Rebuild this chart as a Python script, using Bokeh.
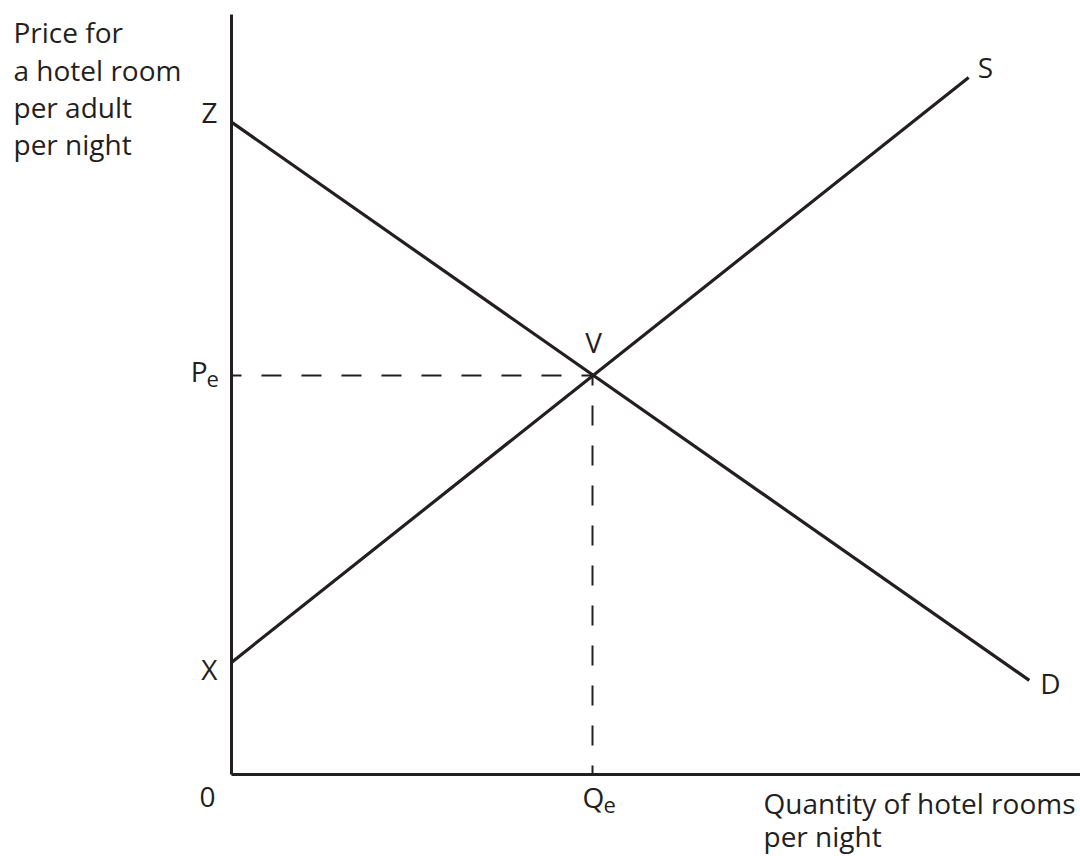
from bokeh.plotting import figure
from bokeh.models import Range1d
from bokeh.core.properties import value
from bokeh.embed import file_html
from bokeh.resources import INLINE

# ---- data (arbitrary units) ----
demand_q = [0.0, 22.1]          # Z -> D
demand_p = [16.35, 2.36]
supply_q = [0.0, 20.42]         # X -> S
supply_p = [2.81, 17.47]
eq_q = 10.0                     # Qe
eq_p = 10.0                     # Pe
axis_q_max = 23.6
axis_p_max = 19.05

y_title = ["Price for", "a hotel room", "per adult", "per night"]
x_title = ["Quantity of hotel rooms", "per night"]

# ---- layout ----
W, H = 1080, 856
ox, oy = 231, 774            # canvas pixel of the origin
sx, sy = 36.1, 39.9          # pixels per unit
INK = "#231f20"
FONT = value("Open Sans")
FS, FS_PX = "28px", 28
SUB, SUB_PX = "22px", 22

p = figure(width=W, height=H, output_backend="svg", toolbar_location=None,
           x_axis_location=None, y_axis_location=None, min_border=0,
           x_range=Range1d(-ox / sx, (W - ox) / sx),
           y_range=Range1d(-(H - oy) / sy, oy / sy))
p.grid.visible = False
p.outline_line_color = None
p.background_fill_color = "white"
p.border_fill_color = "white"

# axes
p.line([0, 0], [0, axis_p_max], line_color=INK, line_width=3)
p.line([0, axis_q_max], [0, 0], line_color=INK, line_width=3)

# dashed guides
p.line([0, eq_q], [eq_p, eq_p], line_color=INK, line_width=2,
       line_dash="20 20", line_dash_offset=10)
p.line([eq_q, eq_q], [eq_p, 0], line_color=INK, line_width=2,
       line_dash="20 20", line_dash_offset=10)

# curves
p.line(demand_q, demand_p, line_color=INK, line_width=3.2)
p.line(supply_q, supply_p, line_color=INK, line_width=3.2)


def txt(x, y, s, dx, dy, align="left", sub=False):
    size, px = (SUB, SUB_PX) if sub else (FS, FS_PX)
    # dy is the wanted baseline offset; compensate renderer's baseline shift
    p.text(x=[x], y=[y], text=[s], x_offset=dx, y_offset=dy - 0.4 * px,
           text_align=align, text_baseline="alphabetic",
           text_font=FONT, text_font_size=size, text_color=INK)


# point labels
txt(0, demand_p[0], "Z", -14, 1, "right")
txt(0, supply_p[0], "X", -14, 18, "right")
txt(0, eq_p, "P", -24, 7, "right")
txt(0, eq_p, "e", -25, 12, "left", sub=True)
txt(0, 0, "0", -16, 34, "right")
txt(eq_q, 0, "Q", -10, 34, "left")
txt(eq_q, 0, "e", 11, 39, "left", sub=True)
txt(eq_q, eq_p, "V", 1, -22, "center")
txt(supply_q[1], supply_p[1], "S", 9, 1, "left")
txt(demand_q[1], demand_p[1], "D", 11, 14, "left")

# axis titles
for i, s in enumerate(y_title):
    txt(0, axis_p_max, s, -218, 29 + 37.3 * i, "left")
for i, s in enumerate(x_title):
    txt(0, 0, s, 532, 40 + 33 * i, "left")

open("out.html", "w").write(file_html(p, INLINE))
